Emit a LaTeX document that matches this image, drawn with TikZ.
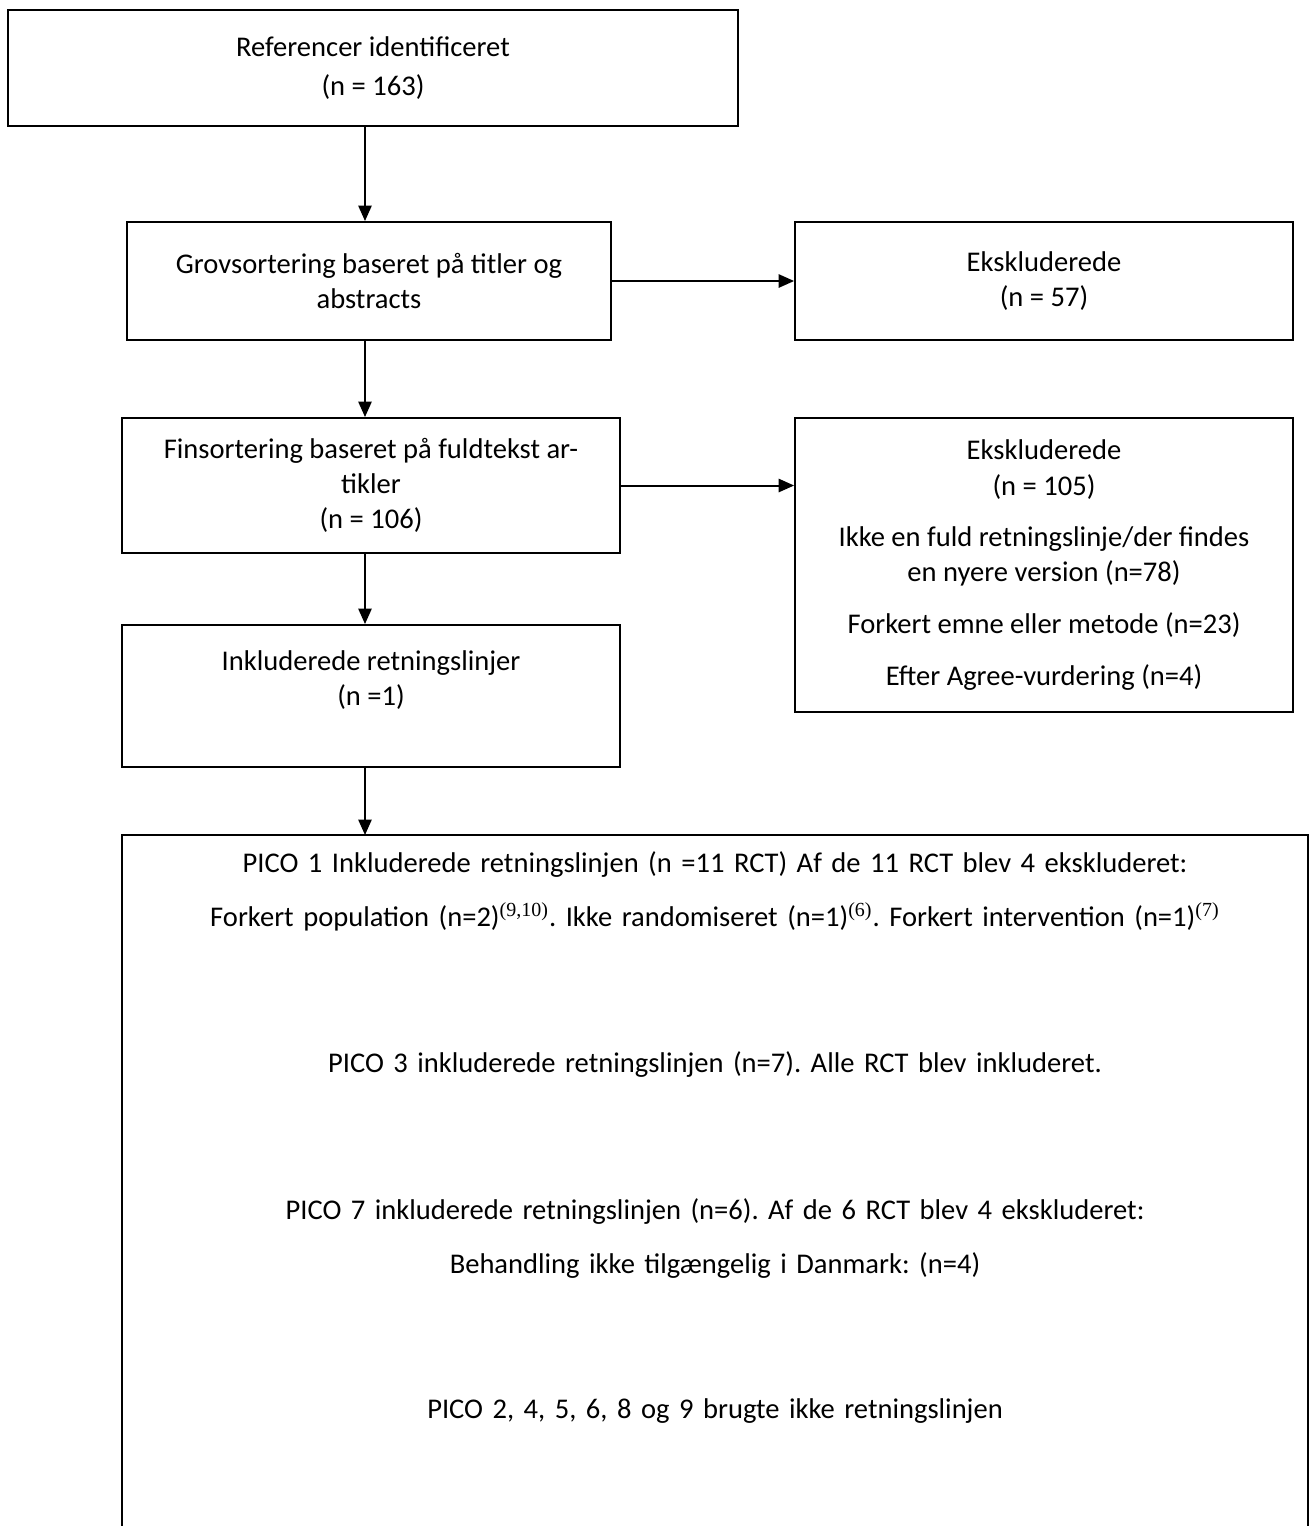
\documentclass[tikz,border=0pt]{standalone}
\usepackage{fontspec}
\setmainfont{Carlito}
\newfontfamily\refsupfont{Liberation Serif}
\usetikzlibrary{arrows.meta,positioning}

\tikzset{
  boks/.style={draw, line width=0.9pt, align=center, font=\fontsize{13}{16}\selectfont\frenchspacing},
  pil/.style={line width=0.9pt, -{Triangle[length=7pt,width=6pt]}}
}
\newcommand{\kilde}[1]{\textsuperscript{\refsupfont(#1)}}

\begin{document}
\begin{tikzpicture}[x=0.016cm,y=-0.016cm]
		\useasboundingbox (0,0) rectangle (1313,1526);
		\coordinate (spine) at (365,0);
		%Left column
		\node[boks, minimum width=11.68cm, minimum height=1.856cm] (ref) at (373,68) {Referencer identificeret\\[1.4pt](n = 163)};
		\node[boks, minimum width=7.744cm, minimum height=1.888cm] (grov) at (369,281) {Grovsortering baseret på titler og\\abstracts};
		\node[boks, minimum width=7.968cm, minimum height=2.16cm] (fin) at (371,485.5) {Finsortering baseret på fuldtekst ar-\\tikler\\(n = 106)};
		\node[boks, minimum width=7.968cm, minimum height=2.272cm] (inkl) at (371,696) {Inkluderede retningslinjer\\(n =1)\\~};
		%Right column
		\node[boks, minimum width=7.968cm, minimum height=1.888cm] (eks1) at (1044,281) {Ekskluderede\\(n = 57)};
		\node[boks, minimum width=7.968cm, minimum height=4.704cm] (eks2) at (1044,565) {Ekskluderede\\(n = 105)\\[7.5pt]Ikke en fuld retningslinje/der findes\\en nyere version (n=78)\\[7.5pt]Forkert emne eller metode (n=23)\\[7.5pt]Efter Agree-vurdering (n=4)};
		%PICO box, open at the bottom
		\node[boks, draw=none, anchor=north, text width=18.5cm, inner ysep=7pt] (pico) at (715,835) {PICO 1 Inkluderede retningslinjen (n =11 RCT) Af de 11 RCT blev 4 ekskluderet:\\[8.7pt]
			Forkert population (n=2)\kilde{9,10}. Ikke randomiseret (n=1)\kilde{6}. Forkert intervention (n=1)\kilde{7}\\[50.7pt]
			PICO 3 inkluderede retningslinjen (n=7). Alle RCT blev inkluderet.\\[50.7pt]
			PICO 7 inkluderede retningslinjen (n=6). Af de 6 RCT blev 4 ekskluderet:\\[8.7pt]
			Behandling ikke tilgængelig i Danmark: (n=4)\\[49.8pt]
			PICO 2, 4, 5, 6, 8 og 9 brugte ikke retningslinjen};
		\coordinate (picoL) at (122,1526);
		\coordinate (picoR) at (1308,1526);
		\draw[line width=0.9pt] (picoL) -- (picoL |- pico.north) -- (picoR |- pico.north) -- (picoR);
		%Arrows
		\draw[pil] (ref.south -| spine) -- (grov.north -| spine);
		\draw[pil] (grov.south -| spine) -- (fin.north -| spine);
		\draw[pil] (fin.south -| spine) -- (inkl.north -| spine);
		\draw[pil] (inkl.south -| spine) -- (pico.north -| spine);
		\draw[pil] (grov.east) -- (eks1.west);
		\draw[pil] (fin.east) -- (fin.east -| eks2.west);
\end{tikzpicture}
\end{document}
